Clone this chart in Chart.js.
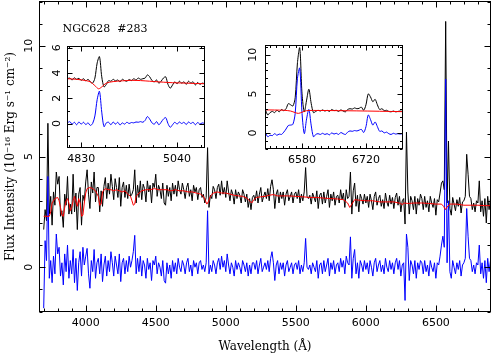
<!DOCTYPE html>
<html>
<head>
<meta charset="utf-8">
<script src="https://cdn.jsdelivr.net/npm/chart.js@4.4.1/dist/chart.umd.min.js"></script>
<style>
html, body { margin: 0; padding: 0; background: #fff; }
#wrap { position: relative; width: 492px; height: 354px; }
#wrap canvas { position: absolute; left: 0; top: 0; }
</style>
</head>
<body>
<div id="wrap">
  <canvas id="main" width="492" height="354"></canvas>
  <canvas id="insetHb" width="492" height="354"></canvas>
  <canvas id="insetHa" width="492" height="354"></canvas>
</div>
<script>
// ---- main spectrum (10 A sampling from 3700 A) ----
var WAVE_START = 3700;
var WAVE_STEP = 10;
var FLUX_OBS = [
  1.7, 2.6, 2.1, 6.5, 2.4, 3.2, 1.9, 3.4, 2.8, 4.3,
  3.75, 4.1, 2.3, 2.55, 1.8, 3.3, 2.8, 4.1, 2.4, 2.85,
  2.4, 4.2, 2.5, 3.35, 1.7, 3.3, 3.6, 1.9, 3.25, 3.0,
  3.85, 4.4, 3.3, 2.65, 3.85, 3.35, 4.3, 2.95, 3.6, 3.6,
  2.5, 3.45, 2.75, 3.65, 4.05, 3.1, 3.8, 3.3, 4.2, 3.65,
  3.05, 4.0, 3.6, 3.15, 4.05, 2.75, 3.6, 3.85, 3.15, 3.7,
  3.1, 3.75, 3.2, 3.3, 3.5, 4.4, 2.9, 3.7, 3.15, 3.9,
  3.05, 3.75, 3.55, 2.95, 3.9, 3.4, 3.7, 2.9, 3.8, 3.6,
  4.2, 3.2, 3.7, 3.5, 3.1, 3.8, 2.9, 2.8, 3.7, 3.2,
  3.6, 3.0, 3.8, 3.3, 3.7, 3.2, 3.9, 3.5, 3.3, 3.8,
  3.5, 3.1, 3.6, 3.8, 3.2, 3.5, 3.0, 3.7, 3.4, 3.6,
  3.05, 3.5, 3.6, 3.15, 3.3, 2.9, 3.15, 5.4, 2.7, 3.25,
  3.1, 3.65, 3.5, 3.1, 3.6, 3.75, 3.25, 3.9, 3.3, 3.6,
  3.15, 3.9, 3.4, 3.0, 3.5, 3.3, 2.85, 3.5, 3.1, 3.4,
  3.25, 2.9, 3.5, 3.3, 2.95, 3.3, 2.7, 3.1, 2.6, 3.15,
  3.25, 3.0, 3.45, 2.9, 3.3, 3.6, 2.95, 3.2, 3.4, 3.1,
  3.55, 3.0, 3.65, 3.95, 3.5, 2.65, 3.3, 3.5, 2.9, 3.4,
  3.1, 3.4, 2.8, 3.3, 3.5, 3.0, 3.2, 3.4, 2.9, 3.3,
  3.4, 3.1, 3.5, 2.9, 3.3, 3.0, 3.4, 4.5, 3.2, 3.1,
  3.25, 2.85, 3.35, 3.15, 2.95, 3.45, 2.65, 3.25, 3.35, 2.85,
  3.4, 2.9, 3.2, 3.5, 2.7, 3.3, 3.0, 3.4, 2.8, 3.2,
  3.25, 2.9, 3.5, 3.05, 3.35, 2.7, 3.5, 3.1, 3.2, 4.3,
  2.4, 3.45, 3.8, 2.75, 3.25, 2.5, 3.3, 3.1, 2.85, 3.3,
  2.9, 3.2, 2.7, 3.3, 3.0, 2.6, 3.2, 3.4, 2.8, 3.1,
  3.25, 2.75, 3.05, 2.65, 3.35, 2.95, 2.75, 3.25, 2.85, 3.15,
  2.65, 3.15, 3.35, 2.8, 3.2, 2.5, 3.0, 3.1, 1.95, 6.1,
  3.4, 2.4, 3.2, 3.0, 2.6, 3.2, 2.4, 3.1, 2.8, 3.3,
  3.1, 2.6, 3.2, 2.7, 3.0, 2.5, 3.2, 2.9, 2.7, 3.1,
  2.35, 3.05, 2.95, 3.35, 3.8, 3.9, 3.5, 11.1, 2.9, 5.7,
  2.65, 2.35, 3.15, 2.85, 2.55, 3.05, 2.75, 3.15, 2.45, 2.95,
  3.0, 3.2, 5.1, 4.2, 3.2, 3.1, 2.6, 2.9, 2.5, 3.0,
  2.9, 3.9, 2.5, 3.0, 2.3, 3.1, 2.0, 3.2, 2.6, 3.1,
  2.9
];
var FLUX_RES = [
  -1.85, 1.2, 0.3, 4.1, -0.5, 0.3, -0.7, 0.5, -0.3, 1.5,
  0.6, 0.9, -0.4, 0.2, -0.8, 0.6, -0.2, 1.0, -0.5, 0.3,
  -0.3, 0.8, -0.7, 0.4, -1.05, 0.2, 0.7, -0.4, 0.9, 0.1,
  0.5, 0.85, -0.3, -0.95, 0.3, -0.2, 0.8, -0.5, 0.2, 0.4,
  -0.3, 0.6, -0.65, 0.1, 0.5, -0.4, 0.3, -0.2, 0.7, 0.2,
  -0.4, 0.5, 0.1, -0.3, 0.6, -0.65, 0.2, 0.4, -0.3, 0.3,
  -0.2, 0.5, 0.0, 0.3, 0.7, 1.44, -0.3, 0.4, -0.2, 0.5,
  -0.4, 0.3, 0.1, -0.5, 0.4, -0.1, 0.2, -0.6, 0.3, 0.1,
  0.5, -0.3, 0.2, 0.0, -0.4, 0.3, -0.6, -0.72, 0.2, -0.3,
  0.1, -0.5, 0.3, -0.2, 0.2, -0.3, 0.4, 0.0, -0.2, 0.3,
  0.1, -0.3, 0.2, 0.4, -0.2, 0.1, -0.4, 0.3, 0.0, 0.2,
  -0.3, 0.2, 0.3, -0.1, 0.1, -0.2, 0.2, 2.55, -0.3, 0.1,
  -0.2, 0.3, 0.1, -0.3, 0.2, 0.4, -0.1, 0.5, 0.0, 0.3,
  -0.2, 0.6, 0.1, -0.3, 0.2, 0.0, -0.4, 0.3, -0.1, 0.2,
  0.0, -0.3, 0.3, 0.1, -0.2, 0.2, -0.4, 0.1, -0.3, 0.2,
  0.2, -0.1, 0.3, -0.3, 0.1, 0.4, -0.2, 0.0, 0.2, -0.1,
  0.3, -0.2, 0.4, 0.7, 0.2, -0.6, 0.1, 0.3, -0.3, 0.2,
  -0.1, 0.2, -0.4, 0.1, 0.3, -0.2, 0.0, 0.2, -0.3, 0.1,
  0.2, -0.1, 0.3, -0.3, 0.1, -0.2, 0.2, 1.3, 0.0, -0.1,
  0.1, -0.3, 0.2, 0.0, -0.2, 0.3, -0.5, 0.1, 0.2, -0.3,
  0.3, -0.2, 0.1, 0.4, -0.4, 0.2, -0.1, 0.3, -0.3, 0.1,
  0.2, -0.2, 0.4, 0.0, 0.3, -0.3, 0.5, 0.2, 0.1, 1.37,
  -0.5, 0.4, 0.8, -0.3, 0.2, -0.5, 0.3, 0.1, -0.2, 0.3,
  -0.1, 0.2, -0.3, 0.3, 0.0, -0.4, 0.2, 0.4, -0.2, 0.1,
  0.3, -0.2, 0.1, -0.3, 0.4, 0.0, -0.2, 0.3, -0.1, 0.2,
  -0.3, 0.2, 0.4, -0.1, 0.3, -0.4, 0.1, 0.2, -1.5, 1.5,
  0.9, -0.6, 0.3, 0.1, -0.3, 0.3, -0.5, 0.2, -0.1, 0.3,
  0.2, -0.3, 0.3, -0.2, 0.1, -0.4, 0.3, 0.0, -0.2, 0.2,
  -0.5, 0.2, 0.1, 0.5, 1.0, 1.4, 0.9, 8.5, 0.2, 3.0,
  -0.2, -0.5, 0.3, 0.0, -0.3, 0.2, -0.1, 0.3, -0.4, 0.1,
  0.2, 0.4, 2.65, 1.4, 0.4, 0.3, -0.2, 0.1, -0.3, 0.2,
  0.1, 1.0, -0.3, 0.2, -0.5, 0.3, -0.7, 0.4, -0.2, 0.3,
  0.1
];
var MODEL_WAVE = [3700, 3740, 3750, 3760, 3780, 3800, 3810, 3820, 3830, 3840, 3850, 3860, 3870, 3880, 3890,
  3900, 3910, 3920, 3930, 3940, 3950, 3960, 3970, 3980, 3990, 4000, 4010, 4030, 4050, 4070, 4090,
  4100, 4110, 4120, 4140, 4160, 4180, 4200, 4220, 4240, 4260, 4280, 4300, 4320, 4330, 4340, 4350,
  4360, 4380, 4400, 4430, 4460, 4490, 4520, 4550, 4580, 4610, 4640, 4670, 4700, 4730, 4760, 4790,
  4820, 4840, 4855, 4865, 4875, 4890, 4910, 4940, 4970, 5000, 5030, 5060, 5090, 5120, 5150, 5170,
  5185, 5200, 5220, 5250, 5280, 5310, 5340, 5370, 5400, 5450, 5500, 5550, 5600, 5650, 5700, 5750,
  5800, 5840, 5870, 5885, 5900, 5920, 5960, 6000, 6050, 6100, 6150, 6200, 6250, 6260, 6270, 6300,
  6350, 6400, 6450, 6500, 6540, 6555, 6568, 6580, 6600, 6650, 6700, 6750, 6800, 6850, 6900];
var MODEL_FLUX = [2.3, 2.3, 2.5, 2.9, 3.1, 3.15, 3.0, 2.7, 2.35, 2.3, 2.7, 3.0, 3.1, 2.9, 2.55,
  2.7, 3.0, 3.2, 2.95, 2.75, 3.1, 2.9, 2.3, 2.35, 2.9, 3.35, 3.55, 3.6, 3.55, 3.45, 3.2,
  2.8, 2.85, 3.4, 3.55, 3.5, 3.5, 3.45, 3.5, 3.45, 3.4, 3.45, 3.3, 3.2, 3.0, 2.8, 2.85,
  3.2, 3.35, 3.45, 3.5, 3.5, 3.55, 3.5, 3.5, 3.5, 3.45, 3.5, 3.45, 3.45, 3.4, 3.4, 3.35,
  3.3, 3.2, 3.0, 2.85, 2.95, 3.2, 3.35, 3.4, 3.35, 3.35, 3.3, 3.25, 3.22, 3.2, 3.12, 3.0,
  2.9, 3.05, 3.15, 3.18, 3.2, 3.25, 3.28, 3.22, 3.22, 3.22, 3.2, 3.18, 3.15, 3.15, 3.12, 3.1,
  3.08, 3.05, 2.9, 2.7, 2.85, 3.05, 3.02, 3.0, 3.0, 2.95, 2.95, 2.95, 2.88, 2.82, 2.9, 2.88,
  2.9, 2.9, 2.88, 2.85, 2.85, 2.75, 2.6, 2.72, 2.85, 2.85, 2.8, 2.8, 2.8, 2.78, 2.78];
var X_TICKS = [4000, 4500, 5000, 5500, 6000, 6500];
var Y_TICKS = [0, 5, 10];

// ---- H-beta inset (5 A sampling from 4800 A) ----
var HB_WAVE_START = 4800;
var HB_WAVE_STEP = 5;
var HB_OBS = [3.55, 3.6, 3.45, 3.62, 3.5, 3.58, 3.42, 3.55, 3.38, 3.5,
  3.3, 3.2, 3.6, 4.8, 5.3, 3.7, 2.9, 3.1, 3.4, 3.35,
  3.5, 3.38, 3.45, 3.3, 3.5, 3.4, 3.35, 3.48, 3.4, 3.55,
  3.45, 3.6, 3.5, 3.55, 3.6, 3.85, 3.7, 3.4, 3.3, 3.45,
  3.2, 3.35, 3.6, 3.7, 3.1, 2.8, 3.05, 3.3, 3.15, 3.35,
  3.2, 3.3, 3.1, 3.35, 3.2, 3.3, 3.05, 3.25, 3.1, 3.2,
  3.15];
var HB_RES = [0.05, 0.15, -0.05, 0.1, -0.1, 0.12, -0.05, 0.1, -0.08, 0.05,
  -0.15, 0.0, 0.6, 1.9, 2.55, 0.9, -0.25, 0.05, 0.1, -0.1,
  0.12, -0.05, 0.1, -0.12, 0.05, -0.05, 0.1, 0.0, 0.08, 0.05,
  0.12, 0.1, 0.15, 0.1, 0.25, 0.55, 0.35, 0.05, -0.05, 0.15,
  -0.1, 0.1, 0.35, 0.47, 0.0, -0.3, -0.1, 0.1, -0.05, 0.12,
  0.0, 0.1, -0.08, 0.12, 0.0, 0.1, -0.1, 0.08, -0.05, 0.05,
  0.0];
var HB_MODEL_WAVE = [4800, 4820, 4840, 4850, 4860, 4868, 4875, 4885, 4900, 4920, 4940, 4960, 4980, 5000, 5020, 5040, 5060, 5080, 5100];
var HB_MODEL_FLUX = [3.55, 3.5, 3.4, 3.3, 3.0, 2.75, 2.9, 3.2, 3.32, 3.38, 3.42, 3.4, 3.35, 3.3, 3.25, 3.22, 3.2, 3.17, 3.15];
var HB_X_TICKS = [4830, 5040];
var HB_Y_TICKS = [0, 2, 4, 6];

// ---- H-alpha inset (5 A sampling from 6500 A) ----
var HA_WAVE_START = 6500;
var HA_WAVE_STEP = 5;
var HA_OBS = [2.95, 2.3, 2.6, 2.75, 2.6, 2.9, 2.7, 3.0, 2.85, 3.1,
  3.75, 3.6, 3.45, 4.5, 9.0, 10.9, 5.0, 2.7, 4.2, 5.6,
  3.8, 2.6, 2.75, 2.9, 2.8, 2.95, 2.8, 2.9, 2.75, 3.0,
  2.85, 2.9, 2.75, 2.95, 2.8, 2.7, 3.0, 3.1, 3.05, 3.2,
  3.1, 3.15, 3.3, 2.9, 3.6, 5.0, 4.6, 4.0, 4.3, 3.6,
  3.0, 3.1, 2.85, 2.9, 2.75, 2.7, 2.8, 2.7, 2.75, 2.8,
  2.75];
var HA_RES = [0.0, -0.5, -0.3, -0.35, -0.1, -0.3, -0.15, -0.2, 0.1, 0.5,
  0.95, 1.0, 1.1, 2.5, 7.0, 8.3, 2.5, -0.1, 1.8, 3.0,
  1.0, -0.5, -0.2, -0.1, -0.2, -0.05, -0.2, -0.1, -0.25, 0.0,
  -0.15, -0.05, -0.2, 0.05, -0.1, -0.2, 0.1, 0.25, 0.2, 0.3,
  0.25, 0.35, 0.45, 0.05, 0.8, 2.3, 1.7, 1.0, 1.4, 0.8,
  0.2, 0.25, 0.0, 0.1, -0.1, -0.2, -0.05, -0.15, -0.1, -0.15,
  -0.1];
var HA_MODEL_WAVE = [6500, 6540, 6555, 6565, 6572, 6580, 6590, 6620, 6700, 6800];
var HA_MODEL_FLUX = [2.95, 2.9, 2.8, 2.6, 2.5, 2.65, 2.85, 2.87, 2.82, 2.72];
var HA_X_TICKS = [6580, 6720];
var HA_Y_TICKS = [0, 5, 10];

Chart.defaults.font.family = 'DejaVu Sans';
Chart.defaults.color = '#000';

function sampled(start, step, values) {
  return values.map(function(v, i) { return {x: start + i * step, y: v}; });
}
function paired(xs, ys) {
  return xs.map(function(x, i) { return {x: x, y: ys[i]}; });
}
function tickValues(min, max, anchor, step) {
  var out = [];
  var v = anchor;
  while (v - step >= min - 1e-6) v -= step;
  for (; v <= max + 1e-6; v += step) out.push(v);
  return out;
}
function zeroPadding(s) {
  s.paddingLeft = 0; s.paddingRight = 0; s.paddingTop = 0; s.paddingBottom = 0;
}
function plainLabel(v) { return String(v); }

// frame with inward ticks on all four sides, like the original plot
function framePlugin(p) {
  return {
    id: 'frame',
    beforeDraw: function(chart) {
      var ctx = chart.ctx, a = chart.chartArea;
      ctx.save();
      ctx.fillStyle = '#fff';
      if (p.fillAll) ctx.fillRect(0, 0, chart.width, chart.height);
      else ctx.fillRect(a.left, a.top, a.right - a.left, a.bottom - a.top);
      ctx.restore();
    },
    afterDraw: function(chart) {
      var ctx = chart.ctx, a = chart.chartArea;
      var xs = chart.scales.x, ys = chart.scales.y;
      ctx.save();
      ctx.strokeStyle = '#000';
      ctx.lineWidth = 1;
      ctx.beginPath();
      tickValues(xs.min, xs.max, p.xTicks[0], p.xMinor).forEach(function(v) {
        var major = p.xTicks.some(function(t) { return Math.abs(t - v) < 1e-6; });
        var len = major ? p.major : p.minor;
        var px = Math.round(xs.getPixelForValue(v)) + 0.5;
        ctx.moveTo(px, a.bottom); ctx.lineTo(px, a.bottom - len);
        ctx.moveTo(px, a.top); ctx.lineTo(px, a.top + len);
      });
      tickValues(ys.min, ys.max, p.yTicks[0], p.yMinor).forEach(function(v) {
        var major = p.yTicks.some(function(t) { return Math.abs(t - v) < 1e-6; });
        var len = major ? p.major : p.minor;
        var py = Math.round(ys.getPixelForValue(v)) + 0.5;
        ctx.moveTo(a.left, py); ctx.lineTo(a.left + len, py);
        ctx.moveTo(a.right, py); ctx.lineTo(a.right - len, py);
      });
      ctx.stroke();
      ctx.strokeRect(a.left, a.top, a.right - a.left, a.bottom - a.top);
      if (p.label) {
        ctx.fillStyle = '#000';
        ctx.font = '11px "DejaVu Serif"';
        ctx.textBaseline = 'middle';
        ctx.fillText(p.label.text, p.label.x, p.label.y);
      }
      ctx.restore();
    }
  };
}

function spectrumChart(id, p) {
  var lineStyle = {pointRadius: 0, borderWidth: 1, tension: p.tension, fill: false};
  return new Chart(document.getElementById(id), {
    type: 'line',
    data: {
      datasets: [
        Object.assign({label: 'Model', data: p.model, borderColor: '#ff0000'}, lineStyle),
        Object.assign({label: 'Residual', data: p.res, borderColor: '#0000ff'}, lineStyle),
        Object.assign({label: 'Observed', data: p.obs, borderColor: '#000000'}, lineStyle)
      ]
    },
    options: {
      responsive: false,
      animation: false,
      devicePixelRatio: 1,
      events: [],
      layout: {
        autoPadding: false,
        padding: {left: 0, top: p.area.top, right: 492 - p.area.right, bottom: 0}
      },
      plugins: {legend: {display: false}, tooltip: {enabled: false}},
      scales: {
        x: {
          type: 'linear',
          min: p.xRange[0],
          max: p.xRange[1],
          grid: {display: false, drawTicks: false},
          border: {display: false},
          ticks: {color: '#000', font: {size: 11}, padding: p.xPad, maxRotation: 0, autoSkip: false,
                  callback: plainLabel},
          title: p.xTitle ? {display: true, text: p.xTitle, color: '#000',
                             font: {family: 'DejaVu Serif', size: 12}, padding: {top: 0, bottom: 0}} : {display: false},
          afterBuildTicks: function(s) { s.ticks = p.xTicks.map(function(v) { return {value: v}; }); },
          afterFit: function(s) { s.height = 354 - p.area.bottom; zeroPadding(s); }
        },
        y: {
          type: 'linear',
          min: p.yRange[0],
          max: p.yRange[1],
          grid: {display: false, drawTicks: false},
          border: {display: false},
          ticks: {color: '#000', font: {size: 11}, padding: p.yPad, minRotation: 90, maxRotation: 90,
                  crossAlign: 'center', autoSkip: false, callback: plainLabel},
          title: p.yTitle ? {display: true, text: p.yTitle, color: '#000',
                             font: {family: 'DejaVu Serif', size: 12}, padding: {top: 3.3, bottom: 0}} : {display: false},
          afterBuildTicks: function(s) { s.ticks = p.yTicks.map(function(v) { return {value: v}; }); },
          afterFit: function(s) { s.width = p.area.left; zeroPadding(s); }
        }
      }
    },
    plugins: [framePlugin(p)]
  });
}

spectrumChart('main', {
  area: {left: 39.5, top: 1.5, right: 490.5, bottom: 311.5},
  xRange: [3670, 6890], yRange: [-2, 12],
  xTicks: X_TICKS, yTicks: Y_TICKS, xMinor: 100, yMinor: 1, major: 6, minor: 3,
  xPad: 5.5, yPad: 3.5, tension: 0, fillAll: true,
  xTitle: 'Wavelength (Å)',
  yTitle: 'Flux Intensity (10⁻¹⁶ Erg s⁻¹ cm⁻²)',
  label: {text: 'NGC628  #283', x: 62.5, y: 29},
  obs: sampled(WAVE_START, WAVE_STEP, FLUX_OBS),
  res: sampled(WAVE_START, WAVE_STEP, FLUX_RES),
  model: paired(MODEL_WAVE, MODEL_FLUX)
});

spectrumChart('insetHb', {
  area: {left: 67.5, top: 46.5, right: 204.5, bottom: 147.5},
  xRange: [4800, 5100], yRange: [-1.9, 6.1],
  xTicks: HB_X_TICKS, yTicks: HB_Y_TICKS, xMinor: 26.25, yMinor: 1, major: 5, minor: 2.5,
  xPad: 5.5, yPad: 7, tension: 0.3, fillAll: false,
  obs: sampled(HB_WAVE_START, HB_WAVE_STEP, HB_OBS),
  res: sampled(HB_WAVE_START, HB_WAVE_STEP, HB_RES),
  model: paired(HB_MODEL_WAVE, HB_MODEL_FLUX)
});

spectrumChart('insetHa', {
  area: {left: 265.5, top: 45.5, right: 402.5, bottom: 148.5},
  xRange: [6500, 6800], yRange: [-2, 11.2],
  xTicks: HA_X_TICKS, yTicks: HA_Y_TICKS, xMinor: 14, yMinor: 1, major: 5, minor: 2.5,
  xPad: 5.5, yPad: 5.5, tension: 0.3, fillAll: false,
  obs: sampled(HA_WAVE_START, HA_WAVE_STEP, HA_OBS),
  res: sampled(HA_WAVE_START, HA_WAVE_STEP, HA_RES),
  model: paired(HA_MODEL_WAVE, HA_MODEL_FLUX)
});
</script>
</body>
</html>
